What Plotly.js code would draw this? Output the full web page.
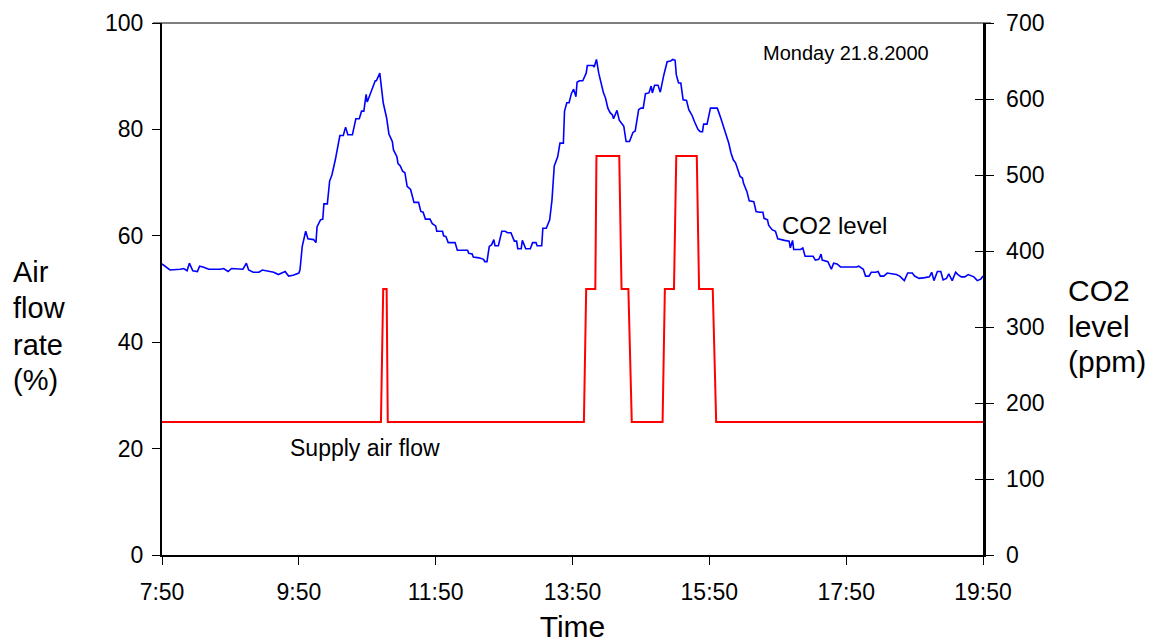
<!DOCTYPE html>
<html>
<head>
<meta charset="utf-8">
<script src="https://cdn.plot.ly/plotly-3.0.1.min.js"></script>
<style>
html,body{margin:0;padding:0;background:#fff;}
#chart{width:1153px;height:643px;}
</style>
</head>
<body>
<div id="chart"></div>
<script>
// Time in minutes since midnight
const timeTickVals = [470, 590, 710, 830, 950, 1070, 1190];
const timeTickLabels = ['7:50', '9:50', '11:50', '13:50', '15:50', '17:50', '19:50'];
const airflowTickVals = [0, 20, 40, 60, 80, 100];
const co2TickVals = [0, 100, 200, 300, 400, 500, 600, 700];

// Supply air flow (%)
const airflowTime = [470, 662, 664, 667, 668, 840, 842, 850, 851, 871, 873, 879, 882, 909, 911, 919, 921, 939, 941, 953, 956, 1190];
const airflowPct  = [25, 25, 50, 50, 25, 25, 50, 50, 75, 75, 50, 50, 25, 25, 50, 50, 75, 75, 50, 50, 25, 25];

// CO2 level (ppm)
const co2Time = [470,477,486,489,492,494,497,501,503,506,511,521,524,528,531,541,544,546,550,555,558,562,568,572,575,578,581,585,590,591,
  593,596,598,603,605,606,609,611,612,615,617,619,622,626,629,631,633,637,638,640,643,645,647,649,650,653,655,657,658,659,661,
  664,667,669,672,673,676,677,679,681,683,685,688,691,695,697,699,701,705,707,710,711,716,717,719,721,727,729,738,739,742,743,748,752,753,755,
  757,759,761,762,765,768,771,773,776,779,781,782,785,786,789,793,795,798,799,803,804,807,810,812,814,817,819,822,823,825,827,829,831,833,834,836,839,842,843,848,849,851,
  853,857,859,861,863,865,866,869,871,874,875,877,880,883,885,888,890,892,894,897,899,900,902,905,907,910,913,916,918,920,
  921,923,925,927,930,932,935,937,940,942,944,945,948,951,957,960,962,964,967,969,971,973,975,977,979,980,983,985,989,991,994,997,998,
  1001,1002,1005,1008,1010,1016,1020,1021,1023,1024,1030,1032,1034,1041,1043,1046,1048,1049,1054,1057,1059,1062,1065,1079,1081,1085,1087,1090,1092,1096,1098,
  1100,1103,1106,1111,1114,1117,1121,1124,1128,1130,1134,1139,1143,1145,1147,1150,1153,1155,1158,1160,1163,1166,1168,1171,1174,1177,1181,1182,1185,1188,1190];
const co2Ppm = [383,375,376,377,374,384,374,373,380,379,376,376,377,373,377,376,384,375,372,372,375,374,372,369,371,373,367,368,371,375,
  406,426,416,415,411,432,441,442,462,462,492,500,520,552,552,563,553,553,560,574,574,584,584,606,596,608,617,624,624,628,634,
  595,575,554,544,533,524,515,512,505,503,485,481,464,464,452,451,442,442,436,433,426,426,420,419,411,411,401,401,397,396,392,391,389,386,386,
  406,408,415,407,407,426,426,424,424,413,413,403,403,414,403,403,411,411,407,407,430,430,441,467,512,524,542,542,584,595,595,607,613,603,622,624,624,634,644,644,642,652,
  634,609,601,588,582,579,574,585,572,566,564,544,544,556,558,586,588,588,607,608,617,608,618,618,609,631,649,650,652,651,
  632,621,621,599,598,586,578,570,560,557,557,567,567,588,588,575,566,557,542,529,520,516,506,498,496,489,478,466,465,452,451,451,443,
  441,434,428,426,416,414,413,404,414,402,402,404,393,393,388,389,396,388,386,376,384,383,379,379,380,376,367,367,372,372,373,
  367,367,371,370,369,367,361,371,371,367,364,365,366,372,361,373,373,362,364,370,361,372,369,366,366,369,367,366,361,363,367];

const FONT = 'Liberation Sans, Arial, sans-serif';

const traces = [
  {
    x: airflowTime, y: airflowPct, type: 'scatter', mode: 'lines',
    line: {color: '#ff0000', width: 2}, yaxis: 'y', hoverinfo: 'skip'
  },
  {
    x: co2Time, y: co2Ppm, type: 'scatter', mode: 'lines',
    line: {color: '#0000ff', width: 1.6}, yaxis: 'y2', hoverinfo: 'skip'
  }
];

const ann = (text, xpx, ypx, size) => ({
  text: text, xref: 'paper', yref: 'paper',
  x: (xpx - 162) / 821, y: (555 - ypx) / 532,
  xanchor: 'left', yanchor: 'middle', showarrow: false,
  font: {family: FONT, size: size, color: '#000'}, align: 'left'
});

const layout = {
  width: 1153, height: 643,
  margin: {l: 162, r: 170, t: 23, b: 88, pad: 0},
  paper_bgcolor: '#fff', plot_bgcolor: '#fff',
  showlegend: false,
  font: {family: FONT, color: '#000', size: 23},
  xaxis: {
    range: [470, 1190], tickvals: timeTickVals, ticktext: timeTickLabels,
    showgrid: false, zeroline: false, showline: true, linecolor: '#000', linewidth: 2,
    ticks: 'outside', ticklen: 8, tickwidth: 1, tickcolor: '#000', ticklabelstandoff: 7,
    tickfont: {family: FONT, size: 23, color: '#000'},
    title: {text: 'Time', font: {family: FONT, size: 30, color: '#000'}, standoff: 15}
  },
  yaxis: {
    range: [0, 100], tickvals: airflowTickVals,
    showgrid: false, zeroline: false, showline: true, linecolor: '#000', linewidth: 2,
    ticks: 'outside', ticklen: 8, tickwidth: 1, tickcolor: '#000', ticklabelstandoff: 4,
    tickfont: {family: FONT, size: 23, color: '#000'}
  },
  yaxis2: {
    range: [0, 700], tickvals: co2TickVals, overlaying: 'y', side: 'right', anchor: 'x',
    showgrid: false, zeroline: false, showline: true, linecolor: '#000', linewidth: 2.5,
    ticks: 'outside', ticklen: 8, tickwidth: 1, tickcolor: '#000', ticklabelstandoff: 8,
    tickfont: {family: FONT, size: 23, color: '#000'}
  },
  yaxis3: {
    range: [0, 700], tickvals: co2TickVals, overlaying: 'y', side: 'right', anchor: 'x',
    showgrid: false, zeroline: false, showline: false, showticklabels: false,
    ticks: 'inside', ticklen: 8, tickwidth: 1, tickcolor: '#000'
  },
  shapes: [
    {type: 'line', xref: 'paper', yref: 'paper', x0: -9/821, x1: 1 + 8/821, y0: 1, y1: 1,
     line: {color: '#000', width: 1}}
  ],
  annotations: [
    ann('Air', 11, 272, 29),
    ann('flow', 11, 308, 29),
    ann('rate', 11, 345, 29),
    ann('(%)', 11, 380, 29),
    ann('CO2', 1066, 290, 30),
    ann('level', 1066, 326, 30),
    ann('(ppm)', 1066, 361, 30),
    ann('CO2 level', 780, 226, 24),
    ann('Monday 21.8.2000', 761, 53, 20),
    ann('Supply air flow', 288, 448, 23)
  ]
};

// invisible trace to activate yaxis3 (inner ticks of the right axis)
traces.push({x: [470], y: [0], yaxis: 'y3', type: 'scatter', mode: 'markers', marker: {opacity: 0}, hoverinfo: 'skip'});

Plotly.newPlot('chart', traces, layout, {displayModeBar: false, staticPlot: true});
</script>
</body>
</html>
